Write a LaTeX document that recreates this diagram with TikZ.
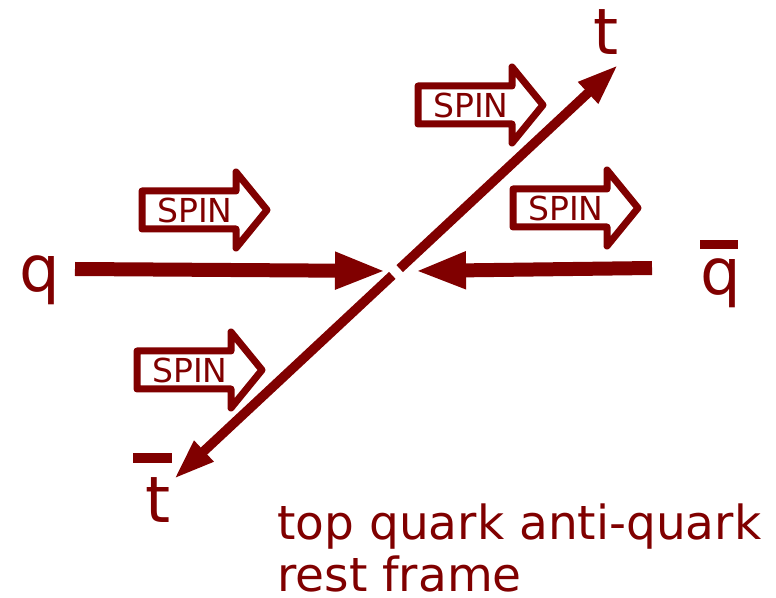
\documentclass[tikz,border=0pt]{standalone}
\usepackage{fontspec}
\setmainfont{DejaVu Sans}
\usetikzlibrary{arrows.meta}
\definecolor{maroon}{HTML}{800000}

\begin{document}
\begin{tikzpicture}[x=0.5pt, y=-0.5pt,
  beam/.style={draw=maroon, line width=7pt, -{Triangle[length=25.5pt, width=17pt]}},
  topline/.style={draw=maroon, line width=4.75pt},
  spinline/.style={draw=maroon, line width=3.5pt, line join=round},
  spintext/.style={text=maroon, inner sep=0pt, font=\fontsize{16.5pt}{18pt}\selectfont},
  biglabel/.style={text=maroon, inner sep=0pt, font=\fontsize{32pt}{36pt}\selectfont}]
\useasboundingbox (0,0) rectangle (776,598);
\newcommand{\spinarrow}[3]{%
  \draw[spinline] (#2-125,#3-19) -- (#2-31,#3-19) -- (#2-31,#3-38) -- (#2,#3)
    -- (#2-31,#3+38) -- (#2-31,#3+19) -- (#2-125,#3+19) -- cycle;
  \node[spintext] (#1) at (#2-72,#3) {SPIN};}
% incoming quarks
\coordinate (qtail) at (75,269);
\coordinate (qtip) at (386,271);
\coordinate (qbtail) at (652,268);
\coordinate (qbtip) at (415,271);
\draw[beam] (qtail) -- (qtip);
\draw[beam] (qbtail) -- (qbtip);
% outgoing top pair, broken at the vertex
\coordinate (tgap) at (399.7,268.6);
\coordinate (ttip) at (618,65);
\coordinate (tbgap) at (392.3,275.4);
\coordinate (tbtip) at (174,479);
\draw[topline, -{Triangle[length=20.5pt, width=13.5pt]}] (tgap) -- (ttip);
\draw[topline, -{Triangle[length=20.5pt, width=13pt]}] (tbgap) -- (tbtip);
% spin arrows
\spinarrow{spintop}{543}{105}
\spinarrow{spinq}{267}{210}
\spinarrow{spinqb}{638}{208}
\spinarrow{spintb}{262}{370}
% particle labels
\node[biglabel, anchor=base] (q) at (40,292) {q};
\node[biglabel, anchor=base] (t) at (606,55) {t};
\node[biglabel, anchor=base] (qb) at (721,295) {q};
\fill[maroon] (700,240) rectangle (738,249);
\node[biglabel, anchor=base] (tb) at (158,522) {t};
\fill[maroon] (133,453) rectangle (172,463);
\node[text=maroon, inner sep=0pt, anchor=north west, align=left,
  font=\fontsize{23.5pt}{26pt}\selectfont] (frame) at (277,503)
  {top quark anti-quark\\rest frame};
\end{tikzpicture}
\end{document}
